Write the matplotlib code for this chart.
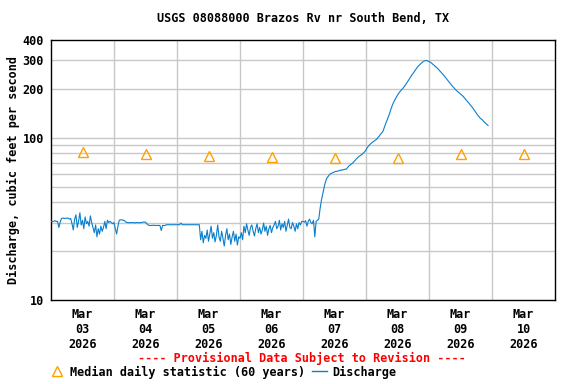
import datetime as dt
import matplotlib
matplotlib.use("Agg")
import matplotlib.pyplot as plt
from matplotlib.lines import Line2D
from matplotlib.ticker import FixedLocator, NullFormatter

# Discharge, cfs, every 30 minutes starting Mar 03 2026 00:00
discharge = [
    # Mar 03
    30.5, 30.5, 30.5, 30.8, 30.5, 30.5, 28.0, 30.2, 31.8, 32.0, 31.8, 31.9,
    31.9, 32.0, 31.5, 31.8, 29.5, 27.0, 31.5, 33.5, 28.0, 30.5, 34.5, 29.0,
    31.0, 27.5, 32.5, 29.5, 30.5, 28.5, 33.0, 30.0, 28.0, 26.0, 29.0, 24.5,
    27.5, 25.5, 28.5, 26.5, 28.0, 30.5, 27.5, 31.0, 30.0, 30.5, 30.0, 29.5,
    # Mar 04
    30.0, 27.5, 25.5, 28.5, 31.0, 31.2, 31.2, 31.0, 30.8, 30.2, 30.0, 30.0,
    29.9, 30.0, 30.0, 30.0, 29.8, 30.0, 30.0, 29.9, 30.0, 30.0, 30.2, 30.2,
    30.2, 29.5, 29.0, 28.8, 28.8, 28.8, 28.9, 28.8, 28.8, 28.8, 28.8, 28.8,
    26.8, 28.8, 28.8, 28.8, 29.1, 29.1, 29.1, 29.1, 29.1, 29.1, 29.1, 29.1,
    # Mar 05
    29.1, 29.1, 29.1, 29.8, 29.1, 29.1, 29.1, 29.1, 29.1, 29.1, 29.1, 29.1,
    29.1, 29.1, 29.1, 29.1, 29.1, 29.1, 23.5, 26.5, 22.5, 25.0, 24.0, 27.0,
    23.0, 25.5, 28.5, 24.0, 26.0, 22.8, 25.0, 29.0, 24.5, 23.0, 26.5, 24.0,
    21.5, 25.0, 27.5, 23.5, 25.5, 22.0, 24.5, 26.5, 23.0, 25.5, 21.8, 24.5,
    # Mar 06
    24.0, 26.0, 23.5, 28.5, 26.0, 29.5, 27.0, 25.0, 28.0, 29.0, 26.5, 24.8,
    27.5, 29.5, 26.0, 28.0, 25.5, 27.0, 29.8, 26.5, 28.5, 25.0, 27.5, 28.8,
    26.0, 28.0, 29.0, 30.5, 27.5, 28.5, 31.0, 27.0, 29.5, 28.0, 30.5, 26.5,
    29.0, 31.5, 28.0, 27.5, 30.0, 28.5, 26.5, 29.5, 27.5, 30.0, 29.0, 30.5,
    # Mar 07
    30.5, 30.2, 30.8, 28.5, 30.5, 31.5, 30.0, 29.5, 31.0, 24.5, 30.5, 31.0,
    31.5, 36.5, 41.0, 45.0, 49.0, 53.0, 56.0, 57.5, 59.0, 60.0, 60.5, 61.0,
    61.5, 62.0, 62.0, 62.5, 63.0, 63.0, 63.5, 63.5, 64.0, 64.0, 65.5, 67.0,
    68.0, 69.0, 70.0, 71.5, 73.0, 74.5, 76.0, 77.0, 78.0, 79.0, 80.5, 82.0,
    # Mar 08
    84, 87, 89, 91, 92.5, 94, 95, 96.5, 97.6, 100, 102, 105,
    107, 110, 116, 122, 128, 134, 141, 150, 158, 165, 171, 177,
    183, 188, 193, 197, 201, 206, 211, 217, 223, 230, 237, 244,
    250, 257, 264, 271, 277, 282, 287, 292, 296, 298, 299, 297,
    # Mar 09
    295, 292, 288, 283, 279, 274, 270, 265, 259, 254, 249, 244,
    238, 232, 227, 222, 217, 212, 207, 203, 199, 195, 192, 189,
    186, 183, 180, 176, 172, 168, 165, 161, 157, 154, 150, 146,
    142, 138, 135, 132, 130, 128, 125, 123, 121, 119,
]

days = ["03", "04", "05", "06", "07", "08", "09", "10"]
median_daily = [82, 79, 77.5, 76, 75.5, 75.5, 79, 79]

y_ticks = [10, 100, 200, 300, 400]
y_grid = [20, 30, 40, 50, 60, 70, 80, 90, 100, 200, 300]

start = dt.datetime(2026, 3, 3)
times = [start + dt.timedelta(minutes=30 * i) for i in range(len(discharge))]
noons = [dt.datetime(2026, 3, int(d), 12) for d in days]
midnights = [dt.datetime(2026, 3, int(d)) for d in days[1:]]

plt.rcParams['font.family'] = 'DejaVu Sans Mono'
plt.rcParams['font.weight'] = 'bold'
fs = 8.5
blue = '#0a7fcc'
orange = '#ffa000'

fig = plt.figure(figsize=(5.76, 3.84), dpi=100)
ax = fig.add_axes([51 / 576, 1 - 300 / 384, 504 / 576, 260 / 384])

ax.set_yscale('log')
ax.set_ylim(10, 400)
ax.set_xlim(start, dt.datetime(2026, 3, 11))

# grid lines
for g in y_grid:
    ax.axhline(g, color='#c8c8c8', lw=1, zorder=0)
for m in midnights:
    ax.axvline(m, color='#c8c8c8', lw=1, zorder=0)

ax.plot(times, discharge, color=blue, lw=0.8, zorder=3)
ax.plot(noons, median_daily, linestyle='none', marker='^', markersize=6.5,
        markerfacecolor='none', markeredgecolor=orange, markeredgewidth=1, zorder=4)

ax.yaxis.set_major_locator(FixedLocator(y_ticks))
ax.yaxis.set_minor_formatter(NullFormatter())
ax.yaxis.set_minor_locator(FixedLocator([]))
ax.set_yticklabels([str(v) for v in y_ticks], fontsize=fs, fontweight='bold')

ax.set_xticks(noons)
ax.set_xticklabels([f"Mar\n{d}\n2026" for d in days], fontsize=fs,
                   fontweight='bold', linespacing=1.2)
ax.tick_params(axis='both', which='both', length=0, pad=6)
ax.tick_params(axis='y', pad=5)

for s in ax.spines.values():
    s.set_color('black')
    s.set_linewidth(1)

ax.set_ylabel('Discharge, cubic feet per second', fontsize=fs, fontweight='bold', labelpad=2)
ax.set_title('USGS 08088000 Brazos Rv nr South Bend, TX', fontsize=fs,
             fontweight='bold', pad=13)

fig.text(302 / 576, 1 - 358 / 384, '---- Provisional Data Subject to Revision ----',
         color='red', fontsize=fs, fontweight='bold', ha='center', va='center')

handles = [
    Line2D([], [], linestyle='none', marker='^', markersize=7, markerfacecolor='none',
           markeredgecolor=orange, markeredgewidth=1),
    Line2D([], [], color=blue, lw=1),
]
fig.legend(handles, ['Median daily statistic (60 years)', 'Discharge'], ncol=2,
           loc='center', bbox_to_anchor=(223 / 576, 1 - 372 / 384), frameon=False,
           prop={'family': 'DejaVu Sans Mono', 'weight': 'bold', 'size': fs},
           handlelength=1.3, handletextpad=0.4, columnspacing=0.6, borderpad=0)

fig.savefig('out.png', dpi=100)
